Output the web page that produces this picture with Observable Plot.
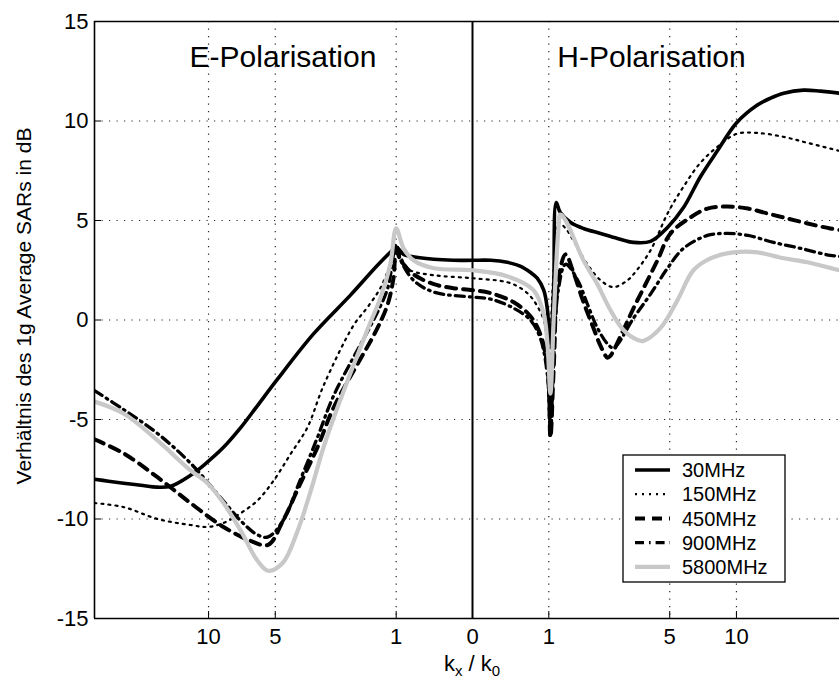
<!DOCTYPE html>
<html><head><meta charset="utf-8">
<script src="https://cdn.jsdelivr.net/npm/d3@7"></script>
<script src="https://cdn.jsdelivr.net/npm/@observablehq/plot@0.6"></script>
<style>
html,body{margin:0;padding:0;background:#fff;overflow:hidden;}
#chart{width:839px;height:691px;overflow:hidden;}
</style></head><body><div id="chart"></div>
<script>
// ---- data (k = kx/k0; negative k = E-Polarisation half, positive = H-Polarisation half)
const seriesNames = ["30MHz", "150MHz", "450MHz", "900MHz", "5800MHz"];

const k30 = [-30,-26.3,-22.8,-19.4,-16.5,-14.5,-11.95,-10.5,-8.6,-7.2,-6.05,-4.9,-3.24,-2.03,-1.37,-1.11,-1,-0.87,-0.76,-0.42,-0.19,0,
  0.18,0.37,0.55,0.69,0.8,0.91,0.976,1,1.03,1.09,1.14,1.22,1.44,1.74,2.2,2.73,3.32,4.04,4.88,5.8,6.93,8.25,10,12.3,14,15.9,19.2,22.6,27,30];
const v30 = [-8.0,-8.1,-8.2,-8.3,-8.4,-8.35,-7.8,-7.3,-6.4,-5.4,-4.3,-3.0,-0.7,1.25,2.75,3.4,3.65,3.3,3.2,3.05,3.0,3.0,
  3.0,2.9,2.7,2.4,2.1,1.5,0.5,-0.4,-1.2,1.5,5.9,5.4,4.9,4.6,4.35,4.1,3.9,3.95,4.65,5.65,7.2,8.5,9.9,10.8,11.15,11.4,11.55,11.5,11.4,11.3];

const k150 = [-30,-22.8,-16.5,-11.95,-10.1,-8.6,-7.2,-6.05,-5.09,-4.2,-3.48,-2.87,-1.95,-1.6,-1.31,-1.11,-1,-0.87,-0.76,-0.42,0,
  0.37,0.55,0.69,0.8,0.91,0.976,1,1.03,1.09,1.18,1.33,1.5,1.84,2.2,2.6,3.09,3.32,4.04,4.88,5.8,6.93,8.25,10,12.3,15.9,20,27,30];
const v150 = [-9.2,-9.4,-10.0,-10.3,-10.4,-10.2,-9.7,-9.07,-8.07,-6.7,-5.4,-3.3,-0.28,0.63,1.6,2.8,3.6,2.9,2.5,2.25,2.1,
  1.9,1.6,1.2,0.7,0,-1.5,-2.5,-1.0,2.5,4.9,4.6,4.0,2.8,2.0,1.65,2.0,2.3,3.5,5.35,6.7,7.9,8.7,9.35,9.4,9.2,8.9,8.5,8.35];

const k450 = [-30,-22.8,-16.5,-11.95,-8.6,-6.5,-5.4,-4.6,-3.77,-3.09,-2.53,-1.37,-1.16,-1.05,-1,-0.92,-0.71,-0.42,-0.19,0,
  0.18,0.45,0.69,0.85,0.976,1.03,1.09,1.18,1.33,1.5,1.74,2,2.2,2.41,2.5,2.94,3.32,3.73,4.37,5.04,6.24,7.45,9.13,11.2,13.6,16.5,20,24.8,30];
const v450 = [-6.0,-6.7,-7.9,-9.2,-10.4,-11.1,-11.3,-10.1,-8.2,-6.4,-4.4,-0.4,0.8,2.1,3.5,3.0,2.3,1.8,1.6,1.5,
  1.35,0.9,0.2,-0.7,-2.4,-5.9,-2.5,2.0,3.3,2.4,0.9,-0.4,-1.3,-1.9,-1.8,-0.5,0.6,1.6,3.0,4.35,5.15,5.6,5.7,5.6,5.35,5.1,4.85,4.6,4.45];

const k900 = [-30,-22.8,-16.5,-11.95,-8.6,-7.2,-6.05,-5.4,-4.6,-3.77,-3.09,-2.53,-1.6,-1.37,-1.16,-1,-0.92,-0.71,-0.42,0,
  0.18,0.45,0.69,0.85,0.976,1.03,1.09,1.18,1.33,1.6,1.84,2.11,2.41,2.6,3.32,4.04,4.88,5.8,7.45,9.13,11.2,14.4,18.7,24.8,30];
const v900 = [-3.55,-4.5,-5.7,-7.2,-9.1,-10.1,-10.8,-10.9,-10.1,-8.0,-5.9,-3.8,-0.6,0.4,1.6,3.8,3.0,2.0,1.4,1.15,
  1.05,0.6,0,-0.9,-2.8,-5.8,-2.0,1.5,2.8,2.0,0.8,-0.4,-1.2,-1.4,0.1,1.3,2.6,3.6,4.25,4.35,4.25,3.9,3.6,3.25,3.15];

const k5800 = [-30,-22.8,-16.5,-11.95,-10.1,-8.6,-7.2,-6.05,-5.4,-4.6,-3.9,-3.35,-2.87,-2.41,-1.6,-1.31,-1.11,-1,-0.87,-0.71,-0.42,0,
  0.37,0.74,0.91,0.976,1.03,1.09,1.18,1.22,1.33,1.74,2.11,2.5,2.94,3.48,3.73,4.52,5.44,6.44,7.69,9.7,12.3,15.9,20,27,30];
const v5800 = [-4.1,-4.7,-6.05,-7.56,-8.2,-9.2,-10.6,-12.1,-12.6,-12.2,-10.6,-8.6,-6.4,-4.4,-0.5,1.1,2.8,4.6,3.6,3.0,2.6,2.5,
  2.2,1.5,0.3,-1.2,-3.7,0,4.5,5.3,5.0,3.0,1.8,0.5,-0.5,-1.0,-1.05,-0.4,1.0,2.5,3.1,3.4,3.4,3.1,2.9,2.5,2.4];

const xTicks = [-10, -5, -1, 0, 1, 5, 10];
const yTicks = [-15, -10, -5, 0, 5, 10, 15];
const panelLabels = ["E-Polarisation", "H-Polarisation"];
const yLabel = "Verhältnis des 1g Average SARs in dB";

// ---- styles
const styleOf = {
  "30MHz":   {stroke: "#000", width: 3.6, dash: null},
  "150MHz":  {stroke: "#000", width: 2.2, dash: "2,5"},
  "450MHz":  {stroke: "#000", width: 4,   dash: "10,7"},
  "900MHz":  {stroke: "#000", width: 3.3, dash: "9,5,1.6,5"},
  "5800MHz": {stroke: "#c8c8c8", width: 4.2, dash: null}
};
const ks = [k30, k150, k450, k900, k5800];
const vs = [v30, v150, v450, v900, v5800];
const rows = seriesNames.flatMap((s, i) => ks[i].map((k, j) => ({series: s, k, v: vs[i][j]})));

const FONT = "'Liberation Sans', Arial, Helvetica, sans-serif";
const gridXvals = xTicks.filter(d => d !== 0);
const gridYvals = yTicks.filter(d => Math.abs(d) !== 15);

const plot = Plot.plot({
  width: 839, height: 691,
  marginLeft: 94, marginRight: 0, marginTop: 21, marginBottom: 73,
  style: {fontFamily: FONT, fontSize: "22px", color: "#000", background: "#fff"},
  x: {type: "symlog", constant: 1, domain: [-30, 30], range: [94, 850]},
  y: {domain: [-15, 15]},
  marks: [
    Plot.gridX(gridXvals, {stroke: "#000", strokeOpacity: 0.85, strokeWidth: 1.2, strokeDasharray: "1.2,6.3"}),
    Plot.gridY(gridYvals, {stroke: "#000", strokeOpacity: 0.85, strokeWidth: 1.2, strokeDasharray: "1.2,6.3"}),
    Plot.ruleX([0], {stroke: "#000", strokeWidth: 2}),
    ...seriesNames.map(s => Plot.line(rows.filter(d => d.series === s), {
      x: "k", y: "v", stroke: styleOf[s].stroke, strokeWidth: styleOf[s].width,
      strokeDasharray: styleOf[s].dash, curve: "catmull-rom", clip: true
    })),
    Plot.ruleY([-15, 15], {stroke: "#000", strokeWidth: 1.6}),
    Plot.ruleX([-30], {stroke: "#000", strokeWidth: 1.6}),
    Plot.axisX({ticks: xTicks, tickFormat: d => String(Math.abs(d)), tickSize: -7, tickPadding: 17, label: null, fontSize: 22, strokeWidth: 1}),
    Plot.axisY({ticks: yTicks, tickFormat: d => String(d), tickSize: -7, tickPadding: 13, label: null, fontSize: 22, strokeWidth: 1})
  ]
});

document.getElementById("chart").appendChild(plot);

// ---- annotations
const svg = d3.select(plot);
const sx = plot.scale("x"), sy = plot.scale("y");
const xL = sx.apply(-30), x0 = sx.apply(0), xR = 839;
const ty = sy.apply(13.25);
svg.append("text").attr("x", (xL + x0) / 2).attr("y", ty).attr("dy", "0.36em")
  .attr("text-anchor", "middle").attr("font-family", FONT).attr("font-size", 30).attr("fill", "#000").text(panelLabels[0]);
svg.append("text").attr("x", (x0 + xR) / 2 - 4).attr("y", ty).attr("dy", "0.36em")
  .attr("text-anchor", "middle").attr("font-family", FONT).attr("font-size", 30).attr("fill", "#000").text(panelLabels[1]);

// y label
svg.append("text").attr("transform", `translate(31,306) rotate(-90)`)
  .attr("text-anchor", "middle").attr("font-family", FONT).attr("font-size", 21).attr("fill", "#000").text(yLabel);

// x label k_x / k_0
const xl = svg.append("text").attr("x", x0).attr("y", 671).attr("text-anchor", "middle")
  .attr("font-family", FONT).attr("font-size", 22).attr("fill", "#000");
xl.append("tspan").text("k");
xl.append("tspan").attr("font-size", 15).attr("dy", 5).text("x");
xl.append("tspan").attr("dy", -5).text(" / k");
xl.append("tspan").attr("font-size", 15).attr("dy", 5).text("0");

// legend
const lg = svg.append("g");
const LX = 623, LY = 455, LW = 162, LH = 127;
lg.append("rect").attr("x", LX).attr("y", LY).attr("width", LW).attr("height", LH)
  .attr("fill", "#fff").attr("stroke", "#000").attr("stroke-width", 1.3);
seriesNames.forEach((s, i) => {
  const cy = LY + 15 + i * 24.2;
  lg.append("line").attr("x1", LX + 12).attr("x2", LX + 47).attr("y1", cy).attr("y2", cy)
    .attr("stroke", styleOf[s].stroke).attr("stroke-width", styleOf[s].width)
    .attr("stroke-dasharray", styleOf[s].dash);
  lg.append("text").attr("x", LX + 59).attr("y", cy).attr("dy", "0.36em").attr("text-anchor", "start")
    .attr("font-family", FONT).attr("font-size", 20).attr("fill", "#000").text(s);
});
</script></body></html>
